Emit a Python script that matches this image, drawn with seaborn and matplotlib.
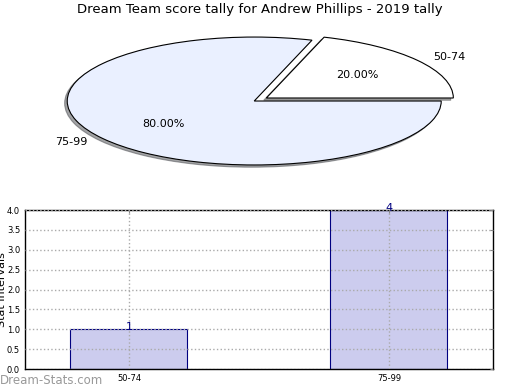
import matplotlib
matplotlib.use('Agg')
import matplotlib.pyplot as plt
import seaborn as sns
import pandas as pd

# Data
intervals = ['50-74', '75-99']
counts = [1, 4]
pie_colors = ['#ffffff', '#eaf0ff']
bar_color = '#ccccee'
edge_navy = '#000080'

sns.set_style("white")
plt.rcParams['font.family'] = ['DejaVu Sans']
plt.rcParams['text.color'] = 'black'
plt.rcParams['axes.labelcolor'] = 'black'
plt.rcParams['xtick.color'] = 'black'
plt.rcParams['ytick.color'] = 'black'

fig = plt.figure(figsize=(5.2, 3.9), dpi=100)

# Pie (stretched, old-school look)
ax1 = fig.add_axes([0.0394, 0.536, 0.899, 0.410])
ax1.pie(counts, labels=intervals, colors=pie_colors, explode=[0.08, 0],
        autopct='%1.2f%%', startangle=0,
        shadow={'ox': -0.01, 'oy': -0.025, 'shade': 0.7},
        wedgeprops={'edgecolor': 'black', 'linewidth': 0.8},
        textprops={'fontsize': 8, 'color': 'black'})
ax1.set_aspect('auto')
ax1.set_xlim(-1.25, 1.25)
ax1.set_ylim(-1.25, 1.25)
ax1.axis('off')
fig.text(0.5, 0.975, 'Dream Team score tally for Andrew Phillips - 2019 tally',
         ha='center', va='center', fontsize=9.5)

# Bars
df = pd.DataFrame({'interval': intervals, 'count': counts})
ax2 = fig.add_axes([0.048, 0.0538, 0.9, 0.4077])
sns.barplot(data=df, x='interval', y='count', ax=ax2, width=0.45,
            color=bar_color, edgecolor=edge_navy, linewidth=0.8, saturation=1)
for c in ax2.containers:
    ax2.bar_label(c, color=edge_navy, fontsize=8, padding=-2)
ax2.set_xlim(-0.4, 1.4)
ax2.set_ylim(0, 4)
ax2.set_yticks([0, 0.5, 1, 1.5, 2, 2.5, 3, 3.5, 4])
ax2.set_yticklabels([f'{v:.1f}' for v in ax2.get_yticks()])
ax2.tick_params(labelsize=6, length=2, direction='in', right=True, top=True,
                color='#888888')
ax2.grid(True, linestyle=':', color='#aaaaaa', linewidth=1)
ax2.set_axisbelow(False)
for s in ax2.spines.values():
    s.set_color('black')
    s.set_linewidth(1)
ax2.set_ylabel('Stat Intervals', fontsize=8)
ax2.yaxis.set_label_coords(-0.038, 0.5)
ax2.set_xlabel('Frequency', fontsize=8, labelpad=5)

fig.text(0.0, 0.025, 'Dream-Stats.com', color='#999999', fontsize=8.5,
         ha='left', va='center')

fig.savefig('out.png', dpi=100)
